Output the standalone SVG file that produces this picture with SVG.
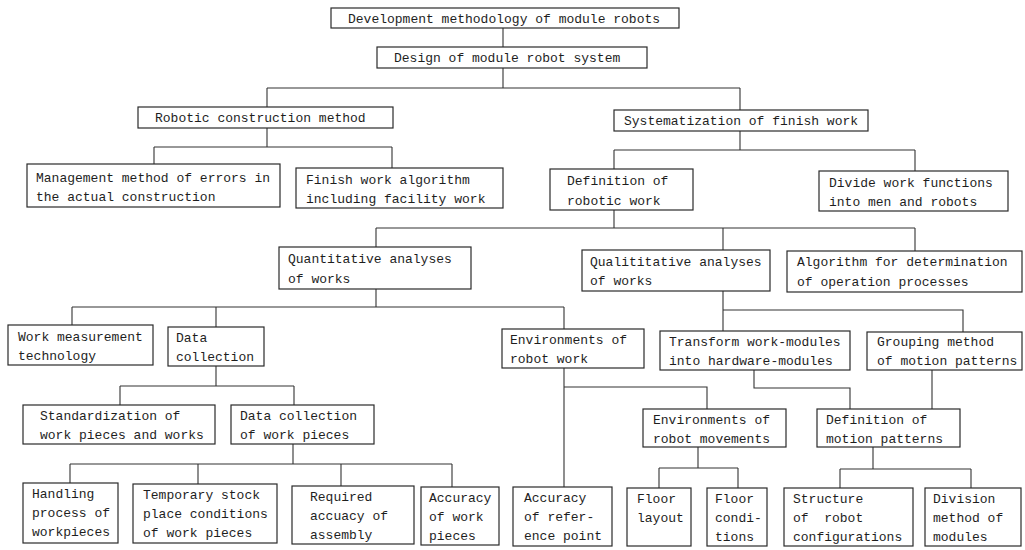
<svg xmlns="http://www.w3.org/2000/svg" width="1025" height="550" viewBox="0 0 1025 550">
<style>
rect.b{fill:#fff;stroke:#2a2a2a;stroke-width:1.2}
text{font-family:"Liberation Mono","DejaVu Sans Mono",monospace;font-size:13px;fill:#1e1e1e}
#connectors path{fill:none;stroke:#333;stroke-width:1.1}
</style>
<rect x="0" y="0" width="1025" height="550" fill="#fff"/>
<g id="connectors">
<path d="M503,28 V47"/>
<path d="M503,68 V88 M267,88 H740 M267,88 V107 M740,88 V110"/>
<path d="M267,128 V147 M154,147 H392 M154,147 V164 M392,147 V168"/>
<path d="M740,131 V150 M614,150 H915 M614,150 V169 M915,150 V171"/>
<path d="M614,210 V228 M376,228 H915 M376,228 V247 M723,228 V250 M915,228 V251"/>
<path d="M376,289 V307 M72,307 H564 M72,307 V325 M216,307 V327 M564,307 V329"/>
<path d="M723,291 V331 M723,310 H963 V332"/>
<path d="M216,366 V386 M120,386 H294 M120,386 V405 M294,386 V405"/>
<path d="M564,368 V487 M564,387 H707 V409"/>
<path d="M754,370 V388 H850 V409"/>
<path d="M932,370 V409"/>
<path d="M293,444 V464 M70,464 H452 M70,464 V483 M198,464 V484 M341,464 V486 M452,464 V487"/>
<path d="M698,447 V468 M659,468 H738 M659,468 V488 M738,468 V488"/>
<path d="M873,447 V469 M840,469 H971 M840,469 V488 M971,469 V488"/>
</g>
<g id="n1"><rect class="b" x="331" y="8" width="348" height="20"/><text x="348" y="23">Development methodology of module robots</text></g>
<g id="n2"><rect class="b" x="377" y="47" width="270" height="21"/><text x="394" y="62">Design of module robot system</text></g>
<g id="n3"><rect class="b" x="138" y="107" width="255" height="21"/><text x="155" y="122">Robotic construction method</text></g>
<g id="n4"><rect class="b" x="614" y="110" width="254" height="21"/><text x="624" y="125">Systematization of finish work</text></g>
<g id="n5"><rect class="b" x="27" y="164" width="253" height="43"/><text x="36" y="182">Management method of errors in</text><text x="36" y="201">the actual construction</text></g>
<g id="n6"><rect class="b" x="296" y="168" width="207" height="40"/><text x="306" y="184">Finish work algorithm</text><text x="306" y="203">including facility work</text></g>
<g id="n7"><rect class="b" x="550" y="169" width="143" height="41"/><text x="567" y="185">Definition of</text><text x="567" y="205">robotic work</text></g>
<g id="n8"><rect class="b" x="819" y="171" width="189" height="40"/><text x="829" y="187">Divide work functions</text><text x="829" y="206">into men and robots</text></g>
<g id="n9"><rect class="b" x="279" y="247" width="192" height="42"/><text x="288" y="263">Quantitative analyses</text><text x="288" y="283">of works</text></g>
<g id="n10"><rect class="b" x="582" y="250" width="188" height="41"/><text x="590" y="266">Qualititative analyses</text><text x="590" y="285">of works</text></g>
<g id="n11"><rect class="b" x="787" y="251" width="235" height="41"/><text x="797" y="266">Algorithm for determination</text><text x="797" y="286">of operation processes</text></g>
<g id="n12"><rect class="b" x="8" y="325" width="145" height="40"/><text x="18" y="341">Work measurement</text><text x="18" y="360">technology</text></g>
<g id="n13"><rect class="b" x="168" y="327" width="96" height="39"/><text x="176" y="342">Data</text><text x="176" y="361">collection</text></g>
<g id="n14"><rect class="b" x="502" y="329" width="142" height="39"/><text x="510" y="344">Environments of</text><text x="510" y="363">robot work</text></g>
<g id="n15"><rect class="b" x="660" y="331" width="190" height="39"/><text x="669" y="346">Transform work-modules</text><text x="669" y="365">into hardware-modules</text></g>
<g id="n16"><rect class="b" x="867" y="332" width="155" height="38"/><text x="877" y="346">Grouping method</text><text x="877" y="365">of motion patterns</text></g>
<g id="n17"><rect class="b" x="23" y="405" width="192" height="39"/><text x="40" y="420">Standardization of</text><text x="40" y="439">work pieces and works</text></g>
<g id="n18"><rect class="b" x="231" y="405" width="143" height="39"/><text x="240" y="420">Data collection</text><text x="240" y="439">of work pieces</text></g>
<g id="n19"><rect class="b" x="643" y="409" width="143" height="38"/><text x="653" y="424">Environments of</text><text x="653" y="443">robot movements</text></g>
<g id="n20"><rect class="b" x="817" y="409" width="143" height="38"/><text x="826" y="424">Definition of</text><text x="826" y="443">motion patterns</text></g>
<g id="n21"><rect class="b" x="23" y="483" width="95" height="60"/><text x="32" y="498">Handling</text><text x="32" y="517">process of</text><text x="32" y="536">workpieces</text></g>
<g id="n22"><rect class="b" x="133" y="484" width="144" height="59"/><text x="143" y="499">Temporary stock</text><text x="143" y="518">place conditions</text><text x="143" y="537">of work pieces</text></g>
<g id="n23"><rect class="b" x="292" y="486" width="122" height="58"/><text x="310" y="501">Required</text><text x="310" y="520">accuacy of</text><text x="310" y="539">assembly</text></g>
<g id="n24"><rect class="b" x="421" y="487" width="78" height="58"/><text x="429" y="502">Accuracy</text><text x="429" y="521">of work</text><text x="429" y="540">pieces</text></g>
<g id="n25"><rect class="b" x="513" y="487" width="99" height="59"/><text x="524" y="502">Accuracy</text><text x="524" y="521">of refer-</text><text x="524" y="540">ence point</text></g>
<g id="n26"><rect class="b" x="627" y="488" width="64" height="58"/><text x="637" y="503">Floor</text><text x="637" y="522">layout</text></g>
<g id="n27"><rect class="b" x="707" y="488" width="60" height="58"/><text x="715" y="503">Floor</text><text x="715" y="522">condi-</text><text x="715" y="541">tions</text></g>
<g id="n28"><rect class="b" x="784" y="488" width="129" height="58"/><text x="793" y="503">Structure</text><text x="793" y="522" xml:space="preserve">of  robot</text><text x="793" y="541">configurations</text></g>
<g id="n29"><rect class="b" x="925" y="488" width="96" height="58"/><text x="933" y="503">Division</text><text x="933" y="522">method of</text><text x="933" y="541">modules</text></g>
</svg>
